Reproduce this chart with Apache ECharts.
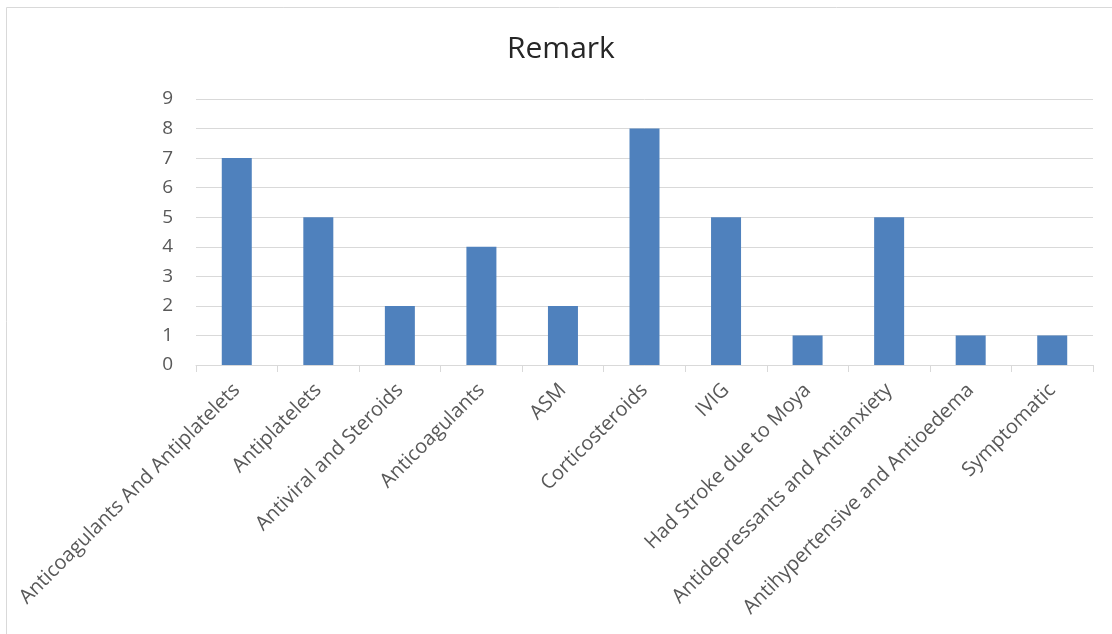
<!DOCTYPE html>
<html>
<head>
<meta charset="utf-8">
<script src="https://cdn.jsdelivr.net/npm/echarts@6/dist/echarts.min.js"></script>
<style>
  html, body { margin: 0; padding: 0; background: #fff; }
  #chart { width: 1112px; height: 634px; }
</style>
</head>
<body>
<div id="chart"></div>
<script>
var categories = [
  'Anticoagulants And Antiplatelets',
  'Antiplatelets',
  'Antiviral and Steroids',
  'Anticoagulants',
  'ASM',
  'Corticosteroids',
  'IVIG',
  'Had Stroke due to Moya',
  'Antidepressants and Antianxiety',
  'Antihypertensive and Antioedema',
  'Symptomatic'
];
var counts = [7, 5, 2, 4, 2, 8, 5, 1, 5, 1, 1];
var yTicks = [0, 1, 2, 3, 4, 5, 6, 7, 8, 9];

var textColor = '#595959';
var fontName = 'Open Sans';

var chart = echarts.init(document.getElementById('chart'));

var option = {
  animation: false,
  title: {
    text: 'Remark',
    left: 502,
    top: 29,
    textStyle: { fontFamily: fontName, fontSize: 30, fontWeight: 'normal', color: '#262626' }
  },
  graphic: [{
    type: 'rect',
    shape: { x: 6.5, y: 7.5, width: 1300, height: 1000 },
    style: { fill: 'none', stroke: '#d9d9d9', lineWidth: 1 },
    silent: true
  }],
  grid: { left: 196, right: 19, top: 99, bottom: 269 },
  xAxis: {
    type: 'category',
    data: categories,
    axisLine: { lineStyle: { color: '#d9d9d9' } },
    axisTick: { show: true, length: 7, lineStyle: { color: '#d9d9d9' } },
    axisLabel: { rotate: 45, margin: 22, interval: 0, color: textColor, fontFamily: fontName, fontSize: 20 }
  },
  yAxis: {
    type: 'value',
    min: yTicks[0],
    max: yTicks[yTicks.length - 1],
    interval: 1,
    axisLine: { show: false },
    axisTick: { show: false },
    splitLine: { lineStyle: { color: '#d9d9d9' } },
    axisLabel: { margin: 23, color: textColor, fontFamily: fontName, fontSize: 19 }
  },
  series: [{
    type: 'bar',
    data: counts,
    barWidth: 30,
    itemStyle: { color: '#4f81bd' }
  }]
};

chart.setOption(option);
</script>
</body>
</html>
